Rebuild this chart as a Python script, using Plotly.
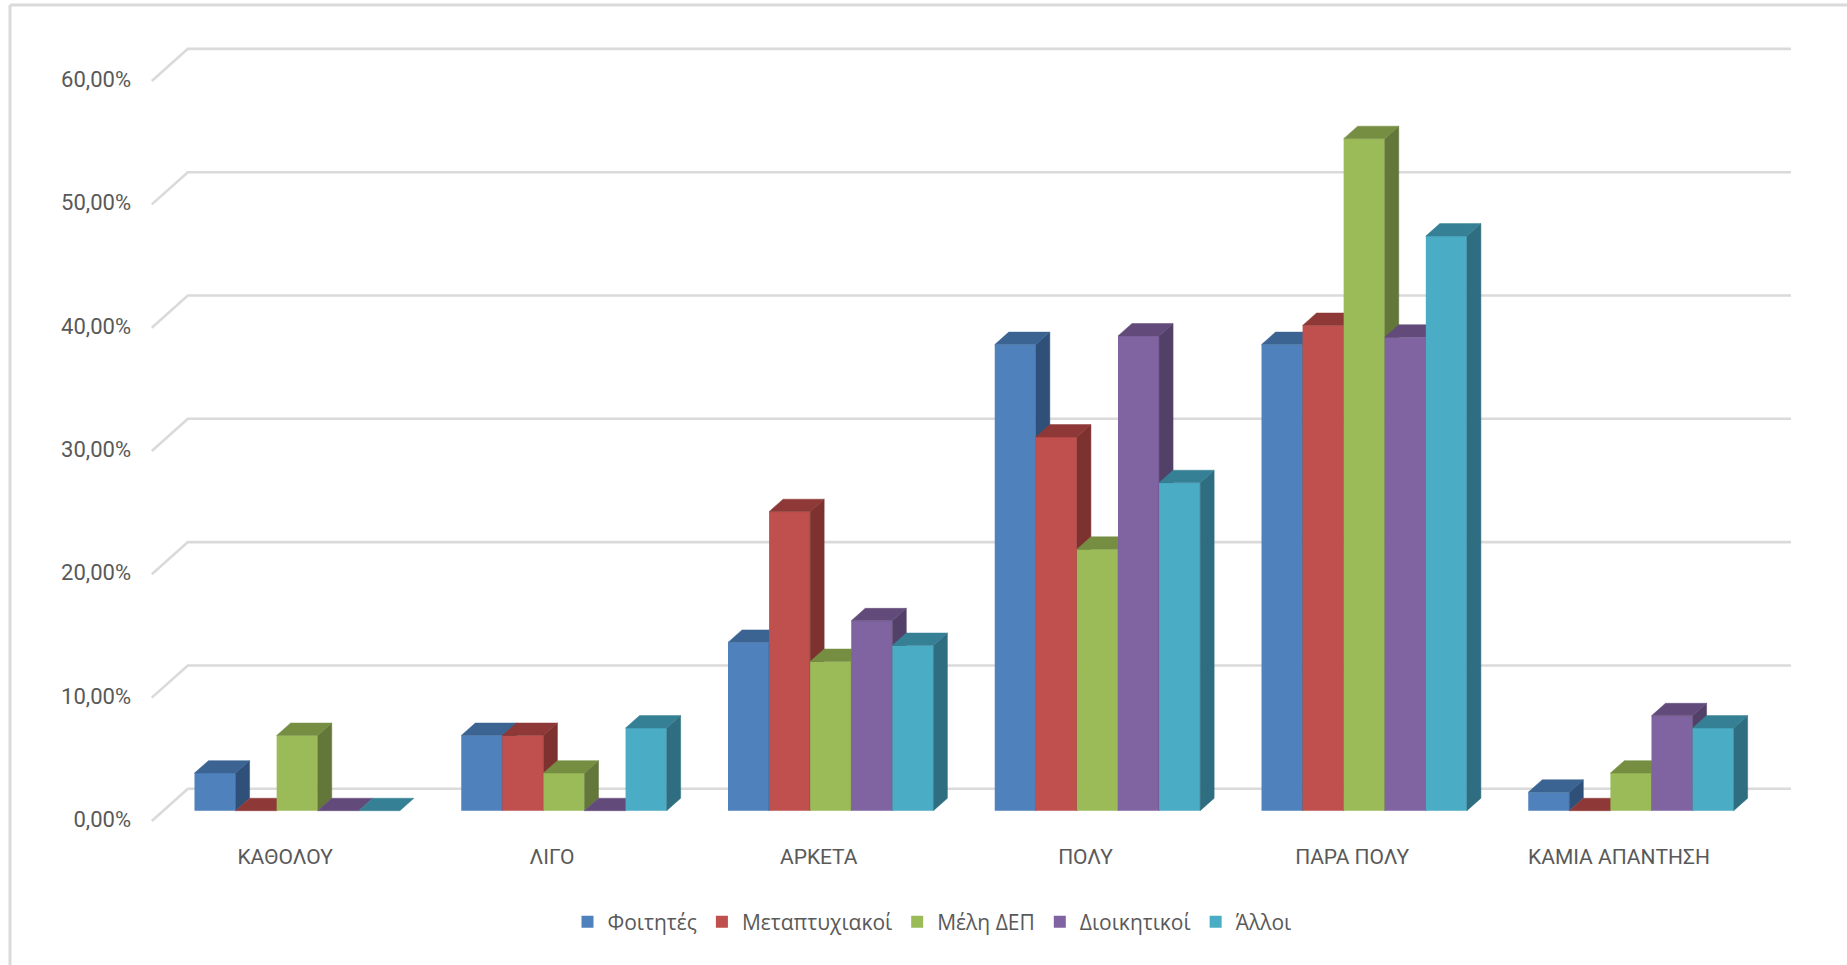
import plotly.graph_objects as go

categories = ["ΚΑΘΟΛΟΥ", "ΛΙΓΟ", "ΑΡΚΕΤΑ", "ΠΟΛΥ", "ΠΑΡΑ ΠΟΛΥ", "ΚΑΜΙΑ ΑΠΑΝΤΗΣΗ"]
foitites = [3.05, 6.1, 13.65, 37.8, 37.8, 1.5]
metaptychiakoi = [0.0, 6.1, 24.25, 30.3, 39.35, 0.0]
meli_dep = [6.1, 3.05, 12.1, 21.2, 54.5, 3.05]
dioikitikoi = [0.0, 0.0, 15.4, 38.5, 38.4, 7.7]
alloi = [0.0, 6.7, 13.4, 26.6, 46.6, 6.7]
y_ticks = [0, 10, 20, 30, 40, 50, 60]
y_tick_labels = ["0,00%", "10,00%", "20,00%", "30,00%", "40,00%", "50,00%", "60,00%"]

series = [
    ("Φοιτητές", foitites, "#4F81BD", "#3B6493", "#2F5079"),
    ("Μεταπτυχιακοί", metaptychiakoi, "#C0504D", "#8E3837", "#7D3230"),
    ("Μέλη ΔΕΠ", meli_dep, "#9BBB59", "#768E42", "#63773A"),
    ("Διοικητικοί", dioikitikoi, "#8064A2", "#624B7A", "#524068"),
    ("Άλλοι", alloi, "#4BACC6", "#368095", "#2F6E80"),
]

TEXT = "#595959"
GRID = "#DADADA"

# Page layout of the plot area, in pixels
W, H = 1847, 965
LEFT, RIGHT, TOP, BOTTOM = 150, 1795, 40, 825

# Projected depth of the columns and the wall, in axis units
BAR_W = 0.154
DEPTH_X = 0.0525
DEPTH_Y = 1.01
X_RANGE = [-0.5518, 5.615]
Y_RANGE = [-1.16, 62.5]

fig = go.Figure()

# Floor edge and back wall for each gridline
for tick in y_ticks:
    fig.add_trace(go.Scatter(
        x=[-0.545, -0.41, 5.6],
        y=[tick - 0.83, tick + 1.78, tick + 1.78],
        mode="lines", line=dict(color=GRID, width=2.6),
        showlegend=False, hoverinfo="skip",
    ))


def polygon(xs, ys, color, yaxis):
    return go.Scatter(
        x=xs + xs[:1], y=ys + ys[:1], yaxis=yaxis, mode="lines",
        fill="toself", fillcolor=color, line=dict(color=color, width=0.5),
        showlegend=False, hoverinfo="skip",
    )


# Each series lives on its own overlaid axis so it paints over the one to its left
for j, (name, values, front, top, side) in enumerate(series):
    yaxis = f"y{j + 2}"
    centers = [i + (j - 2) * BAR_W for i in range(len(categories))]
    fig.add_trace(go.Bar(
        x=centers, y=values, width=BAR_W, name=name, yaxis=yaxis,
        marker=dict(color=front, line=dict(width=0)), hoverinfo="skip",
    ))
    for cx, v in zip(centers, values):
        xl, xr = cx - BAR_W / 2, cx + BAR_W / 2
        if v > 0:
            fig.add_trace(polygon(
                [xr, xr + DEPTH_X, xr + DEPTH_X, xr],
                [0, DEPTH_Y, v + DEPTH_Y, v], side, yaxis))
        fig.add_trace(polygon(
            [xl, xr, xr + DEPTH_X, xl + DEPTH_X],
            [v, v, v + DEPTH_Y, v + DEPTH_Y], top, yaxis))

layout_axes = {
    f"yaxis{j + 2}": dict(range=Y_RANGE, overlaying="y", visible=False)
    for j in range(len(series))
}

fig.update_layout(
    width=W, height=H,
    margin=dict(l=LEFT, r=W - RIGHT, t=TOP, b=H - BOTTOM, pad=0),
    paper_bgcolor="white", plot_bgcolor="white",
    font=dict(family="Roboto", color=TEXT, size=22),
    barmode="overlay",
    xaxis=dict(
        range=X_RANGE, tickmode="array",
        tickvals=[i - 0.045 for i in range(len(categories))], ticktext=categories,
        showgrid=False, zeroline=False, showline=False, ticks="",
        ticklabelstandoff=17,
        tickfont=dict(family="Roboto", color=TEXT, size=21),
    ),
    yaxis=dict(
        range=Y_RANGE, tickmode="array",
        tickvals=[t - 0.7 for t in y_ticks], ticktext=y_tick_labels,
        showgrid=False, zeroline=False, showline=False, ticks="",
        ticklabelstandoff=18,
        tickfont=dict(family="Roboto", color=TEXT, size=22),
    ),
    legend=dict(
        orientation="h", xanchor="center", yanchor="middle",
        x=(932 - LEFT) / (RIGHT - LEFT), y=(BOTTOM - 922) / (BOTTOM - TOP),
        font=dict(family="Open Sans", color=TEXT, size=21),
        traceorder="normal", bgcolor="rgba(0,0,0,0)",
    ),
    shapes=[
        dict(type="line", xref="paper", yref="paper",
             x0=(10 - LEFT) / (RIGHT - LEFT), x1=(10 - LEFT) / (RIGHT - LEFT),
             y0=(BOTTOM - H) / (BOTTOM - TOP), y1=(BOTTOM - 5) / (BOTTOM - TOP),
             line=dict(color=GRID, width=3)),
        dict(type="line", xref="paper", yref="paper",
             x0=(10 - LEFT) / (RIGHT - LEFT), x1=(W - LEFT) / (RIGHT - LEFT),
             y0=(BOTTOM - 5) / (BOTTOM - TOP), y1=(BOTTOM - 5) / (BOTTOM - TOP),
             line=dict(color=GRID, width=3)),
    ],
    **layout_axes,
)

fig.write_html("out.html")
